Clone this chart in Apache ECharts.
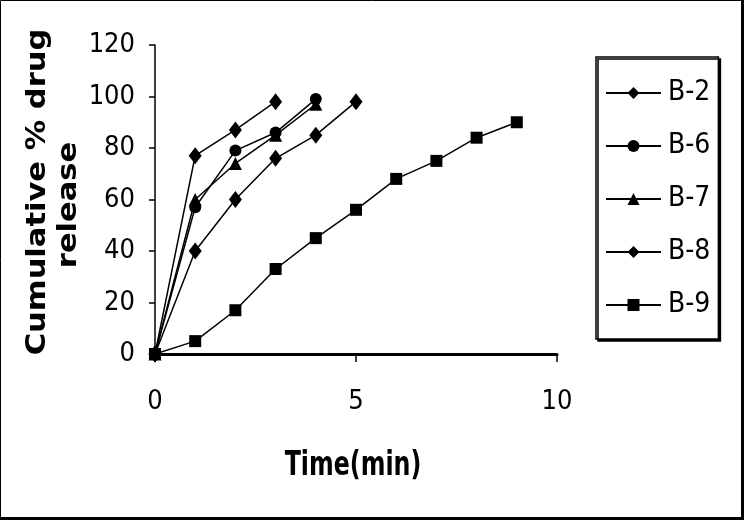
<!DOCTYPE html>
<html>
<head>
<meta charset="utf-8">
<script src="https://cdn.jsdelivr.net/npm/echarts@6/dist/echarts.min.js"></script>
<style>
  html, body { margin: 0; padding: 0; background: #fff; }
  #chart { width: 744px; height: 520px; }
</style>
</head>
<body>
<div id="chart"></div>
<script>
// time points (min) and cumulative % drug release
var seriesNames = ["B-2", "B-6", "B-7", "B-8", "B-9"];
var timeB2 = [0, 1, 2, 3];
var relB2 = [0, 77, 87, 98];
var timeB6 = [0, 1, 2, 3, 4];
var relB6 = [0, 57, 79, 86, 99];
var timeB7 = [0, 1, 2, 3, 4];
var relB7 = [0, 60, 74, 85, 97];
var timeB8 = [0, 1, 2, 3, 4, 5];
var relB8 = [0, 40, 60, 76, 85, 98];
var timeB9 = [0, 1, 2, 3, 4, 5, 6, 7, 8, 9];
var relB9 = [0, 5, 17, 33, 45, 56, 68, 75, 84, 90];

var narrow = '"DejaVu Sans Condensed", "Liberation Sans Narrow", sans-serif';

function pairs(xs, ys) {
  return xs.map(function (x, i) { return [x, ys[i]]; });
}

function makeSeries(name, xs, ys, symbol, size) {
  return {
    name: name,
    type: "line",
    data: pairs(xs, ys),
    symbol: symbol,
    symbolSize: size,
    showAllSymbol: true,
    lineStyle: { color: "#000", width: 1.5 },
    itemStyle: { color: "#000" },
    emphasis: { disabled: true }
  };
}

var myChart = echarts.init(document.getElementById("chart"));
var option = {
  backgroundColor: "#fff",
  animation: false,
  grid: { left: 155, right: 187, top: 45, bottom: 166 },
  xAxis: {
    type: "value",
    min: 0,
    max: 10,
    interval: 5,
    splitLine: { show: false },
    axisLine: { show: true, onZero: false, lineStyle: { color: "#000", width: 3 } },
    axisTick: { show: true, length: 8, lineStyle: { color: "#000", width: 1.5 } },
    axisLabel: { color: "#000", fontFamily: narrow, fontSize: 27, margin: 34 }
  },
  yAxis: {
    type: "value",
    min: 0,
    max: 120,
    interval: 20,
    splitLine: { show: false },
    axisLine: { show: true, lineStyle: { color: "#000", width: 1.5 } },
    axisTick: { show: true, length: 6, lineStyle: { color: "#000", width: 1.5 } },
    axisLabel: { color: "#000", fontFamily: narrow, fontSize: 27, margin: 20 }
  },
  legend: {
    orient: "vertical",
    left: 596,
    top: 57,
    data: seriesNames,
    itemWidth: 55,
    itemHeight: 15,
    itemGap: 23,
    padding: [21, 8, 19, 9],
    backgroundColor: "#fff",
    borderColor: "#000",
    borderWidth: 1.5,
    shadowColor: "#000",
    shadowBlur: 0,
    shadowOffsetX: 2,
    shadowOffsetY: 2,
    textStyle: { color: "#000", fontFamily: narrow, fontSize: 28, lineHeight: 30, padding: [0, 0, 0, 2] }
  },
  graphic: [
    // y title, two rotated lines
    {
      type: "text",
      x: 38,
      y: 192,
      rotation: Math.PI / 2,
      scaleX: 1.13,
      style: {
        text: "Cumulative % drug",
        fill: "#000",
        font: "bold 27px 'DejaVu Sans', sans-serif",
        align: "center",
        verticalAlign: "middle"
      }
    },
    {
      type: "text",
      x: 69,
      y: 205,
      rotation: Math.PI / 2,
      scaleX: 1.13,
      style: {
        text: "release",
        fill: "#000",
        font: "bold 27px 'DejaVu Sans', sans-serif",
        align: "center",
        verticalAlign: "middle"
      }
    },
    {
      type: "text",
      x: 353,
      y: 466,
      scaleX: 0.8,
      style: {
        text: "Time(min)",
        fill: "#000",
        font: "bold 33px " + narrow,
        align: "center",
        verticalAlign: "middle"
      }
    },
    // picture frame: thin top/left, heavier right/bottom
    {
      type: "polyline",
      silent: true,
      shape: { points: [[0.5, 519], [0.5, 0.5], [743, 0.5]] },
      style: { stroke: "#000", lineWidth: 1, fill: null }
    },
    {
      type: "polyline",
      silent: true,
      shape: { points: [[0, 518.5], [742.5, 518.5], [742.5, 0]] },
      style: { stroke: "#000", lineWidth: 3, fill: null }
    }
  ],
  series: [
    makeSeries("B-2", timeB2, relB2, "diamond", [13, 17]),
    makeSeries("B-6", timeB6, relB6, "circle", 12),
    makeSeries("B-7", timeB7, relB7, "triangle", 13),
    makeSeries("B-8", timeB8, relB8, "diamond", [13, 17]),
    makeSeries("B-9", timeB9, relB9, "rect", 12)
  ]
};
myChart.setOption(option);
</script>
</body>
</html>
